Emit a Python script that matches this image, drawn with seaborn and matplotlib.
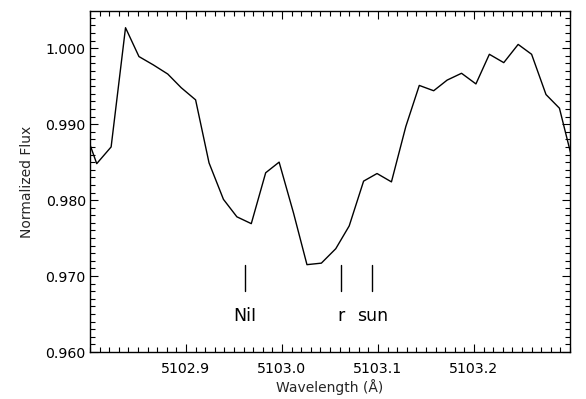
import matplotlib
matplotlib.use("Agg")
import matplotlib.pyplot as plt
from matplotlib.ticker import MultipleLocator, FormatStrFormatter
import seaborn as sns
import pandas as pd

# Data
wavelength = [5102.793, 5102.807, 5102.822, 5102.837, 5102.851, 5102.866, 5102.881,
              5102.895, 5102.910, 5102.924, 5102.939, 5102.953, 5102.968, 5102.983,
              5102.997, 5103.012, 5103.026, 5103.041, 5103.056, 5103.070, 5103.085,
              5103.099, 5103.114, 5103.129, 5103.143, 5103.158, 5103.172, 5103.187,
              5103.202, 5103.216, 5103.231, 5103.246, 5103.260, 5103.275, 5103.289,
              5103.304]
flux = [0.9898, 0.9848, 0.9870, 1.0027, 0.9989, 0.9978, 0.9966, 0.9948, 0.9932,
        0.9849, 0.9801, 0.9778, 0.9769, 0.9836, 0.9850, 0.9783, 0.9715, 0.9717,
        0.9736, 0.9766, 0.9825, 0.9835, 0.9824, 0.9897, 0.9951, 0.9944, 0.9958,
        0.9967, 0.9953, 0.9992, 0.9981, 1.0005, 0.9992, 0.9939, 0.9921, 0.9845]

line_ids = ["NiI", "r", "sun"]
line_wavelengths = [5102.961, 5103.061, 5103.094]
marker_bottom = 0.9680
marker_top = 0.9715
label_y = 0.9647

x_ticks = [5102.9, 5103.0, 5103.1, 5103.2]
y_ticks = [0.960, 0.970, 0.980, 0.990, 1.000]

sns.set_theme(style="ticks")
plt.rcParams['font.family'] = ['DejaVu Sans']

df = pd.DataFrame({"wavelength": wavelength, "flux": flux})

fig = plt.figure(figsize=(5.86, 3.99), dpi=100)
ax = fig.add_axes([90 / 586, 1 - 352 / 399, 480 / 586, 341 / 399])

sns.lineplot(data=df, x="wavelength", y="flux", ax=ax, color="black",
             linewidth=1.0, sort=False, estimator=None)

for wl, lab in zip(line_wavelengths, line_ids):
    ax.plot([wl, wl], [marker_bottom, marker_top], color="black", linewidth=1.0)
    ax.text(wl, label_y, lab, ha="center", va="center", fontsize=12.5, color="black")

ax.set_xlim(5102.80, 5103.30)
ax.set_ylim(0.960, 1.0049)
ax.set_xticks(x_ticks)
ax.set_yticks(y_ticks)
ax.xaxis.set_major_formatter(FormatStrFormatter("%.1f"))
ax.yaxis.set_major_formatter(FormatStrFormatter("%.3f"))
ax.xaxis.set_minor_locator(MultipleLocator(0.01))
ax.yaxis.set_minor_locator(MultipleLocator(0.001))
ax.tick_params(which="both", direction="in", top=True, right=True,
               colors="black", width=0.8, labelsize=10.2)
ax.tick_params(which="major", length=6)
ax.tick_params(which="minor", length=3.5)
ax.tick_params(axis="x", which="major", pad=7.5)
ax.tick_params(axis="y", which="major", pad=3)

for sp in ax.spines.values():
    sp.set_visible(True)
    sp.set_color("black")
    sp.set_linewidth(1.0)

ax.set_xlabel("Wavelength (Å)", fontsize=10, labelpad=2)
ax.set_ylabel("Normalized Flux", fontsize=10, labelpad=8)
ax.set_facecolor("white")
fig.patch.set_facecolor("white")

fig.savefig("out.png", dpi=100)
